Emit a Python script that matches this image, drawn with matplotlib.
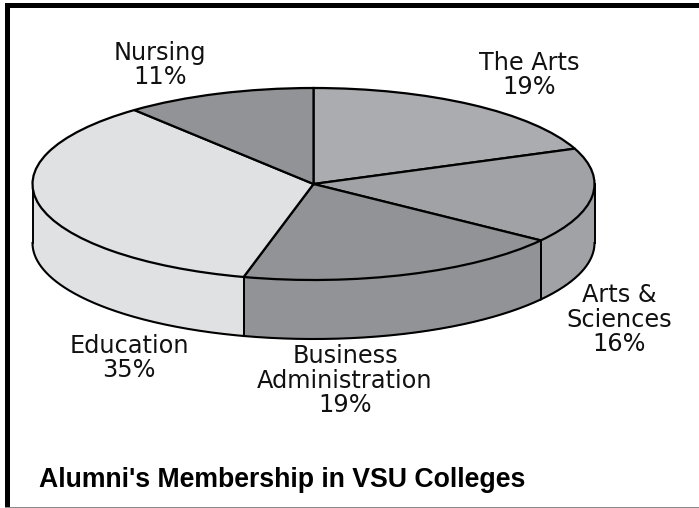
from __future__ import annotations

import matplotlib
matplotlib.use("Agg")

import matplotlib.pyplot as plt
import numpy as np
from matplotlib.patches import Rectangle

WIDTH, HEIGHT = 699, 508

colleges = ["The Arts", "Arts &\nSciences", "Business\nAdministration", "Education", "Nursing"]
shares = [19, 16, 19, 35, 11]
colors = ["#ABACAF", "#A1A2A5", "#929396", "#E0E1E3", "#929396"]

# label anchors in pixels: centre x, baseline y of the last line
label_pos = [(529, 94), (619, 351), (345, 412), (129, 377), (160, 84)]

# pie geometry in pixels
CX, CY = 313.5, 184
RX, RY = 281, 96
DEPTH = 59 / RY


def px(x: float, y: float) -> tuple[float, float]:
    return x / WIDTH, 1 - y / HEIGHT


def draw_walls(ax: plt.Axes, starts: np.ndarray, ends: np.ndarray) -> None:
    # only the front half of the cylinder shows, angles run clockwise
    for start, end, color in zip(starts, ends, colors):
        lo, hi = max(end, -180), min(start, 0)
        if lo >= hi:
            continue
        theta = np.radians(np.linspace(lo, hi, 200))
        x = np.cos(theta)
        top = np.sin(theta)
        ax.fill_between(x, top, top - DEPTH, color=color, linewidth=0, zorder=1)
        ax.plot(x, top - DEPTH, color="black", linewidth=1.5, zorder=2)
        for edge in (lo, hi):
            rad = np.radians(edge)
            ax.plot(
                [np.cos(rad)] * 2,
                [np.sin(rad), np.sin(rad) - DEPTH],
                color="black",
                linewidth=1.4,
                zorder=2,
            )


def main() -> None:
    fig = plt.figure(figsize=(WIDTH / 100, HEIGHT / 100), dpi=100)
    ax = fig.add_axes([0, 0, 1, 1])

    ax.pie(
        shares,
        colors=colors,
        startangle=90,
        counterclock=False,
        radius=1,
        wedgeprops={"edgecolor": "black", "linewidth": 1.6, "zorder": 3},
    )
    ax.set_aspect("auto")
    ax.set_xlim(-CX / RX, (WIDTH - CX) / RX)
    ax.set_ylim((CY - HEIGHT) / RY, CY / RY)

    cumulative = np.cumsum([0] + shares) / sum(shares) * 360
    draw_walls(ax, 90 - cumulative[:-1], 90 - cumulative[1:])

    for college, share, (x, y) in zip(colleges, shares, label_pos):
        fx, fy = px(x, y)
        fig.text(
            fx,
            fy,
            f"{college}\n{share}%",
            family="DejaVu Sans",
            fontsize=17.3,
            color="#111111",
            ha="center",
            va="baseline",
            multialignment="center",
            linespacing=1.02,
        )

    fx, fy = px(39, 487)
    fig.text(
        fx,
        fy,
        "Alumni's Membership in VSU Colleges",
        family="Liberation Sans",
        fontweight="bold",
        fontsize=19.15,
        color="black",
        ha="left",
        va="baseline",
    )

    # page frame: heavy top and left, thin grey bottom
    for x, y, w, h, color in [
        (5, 3, 694, 5, "black"),
        (5, 3, 5, 504, "black"),
        (5, 506.5, 694, 1.2, "#8a8a8a"),
    ]:
        fig.add_artist(
            Rectangle(
                (x / WIDTH, 1 - (y + h) / HEIGHT),
                w / WIDTH,
                h / HEIGHT,
                transform=fig.transFigure,
                facecolor=color,
                edgecolor="none",
            )
        )

    fig.savefig("out.png", dpi=100)


if __name__ == "__main__":
    main()
